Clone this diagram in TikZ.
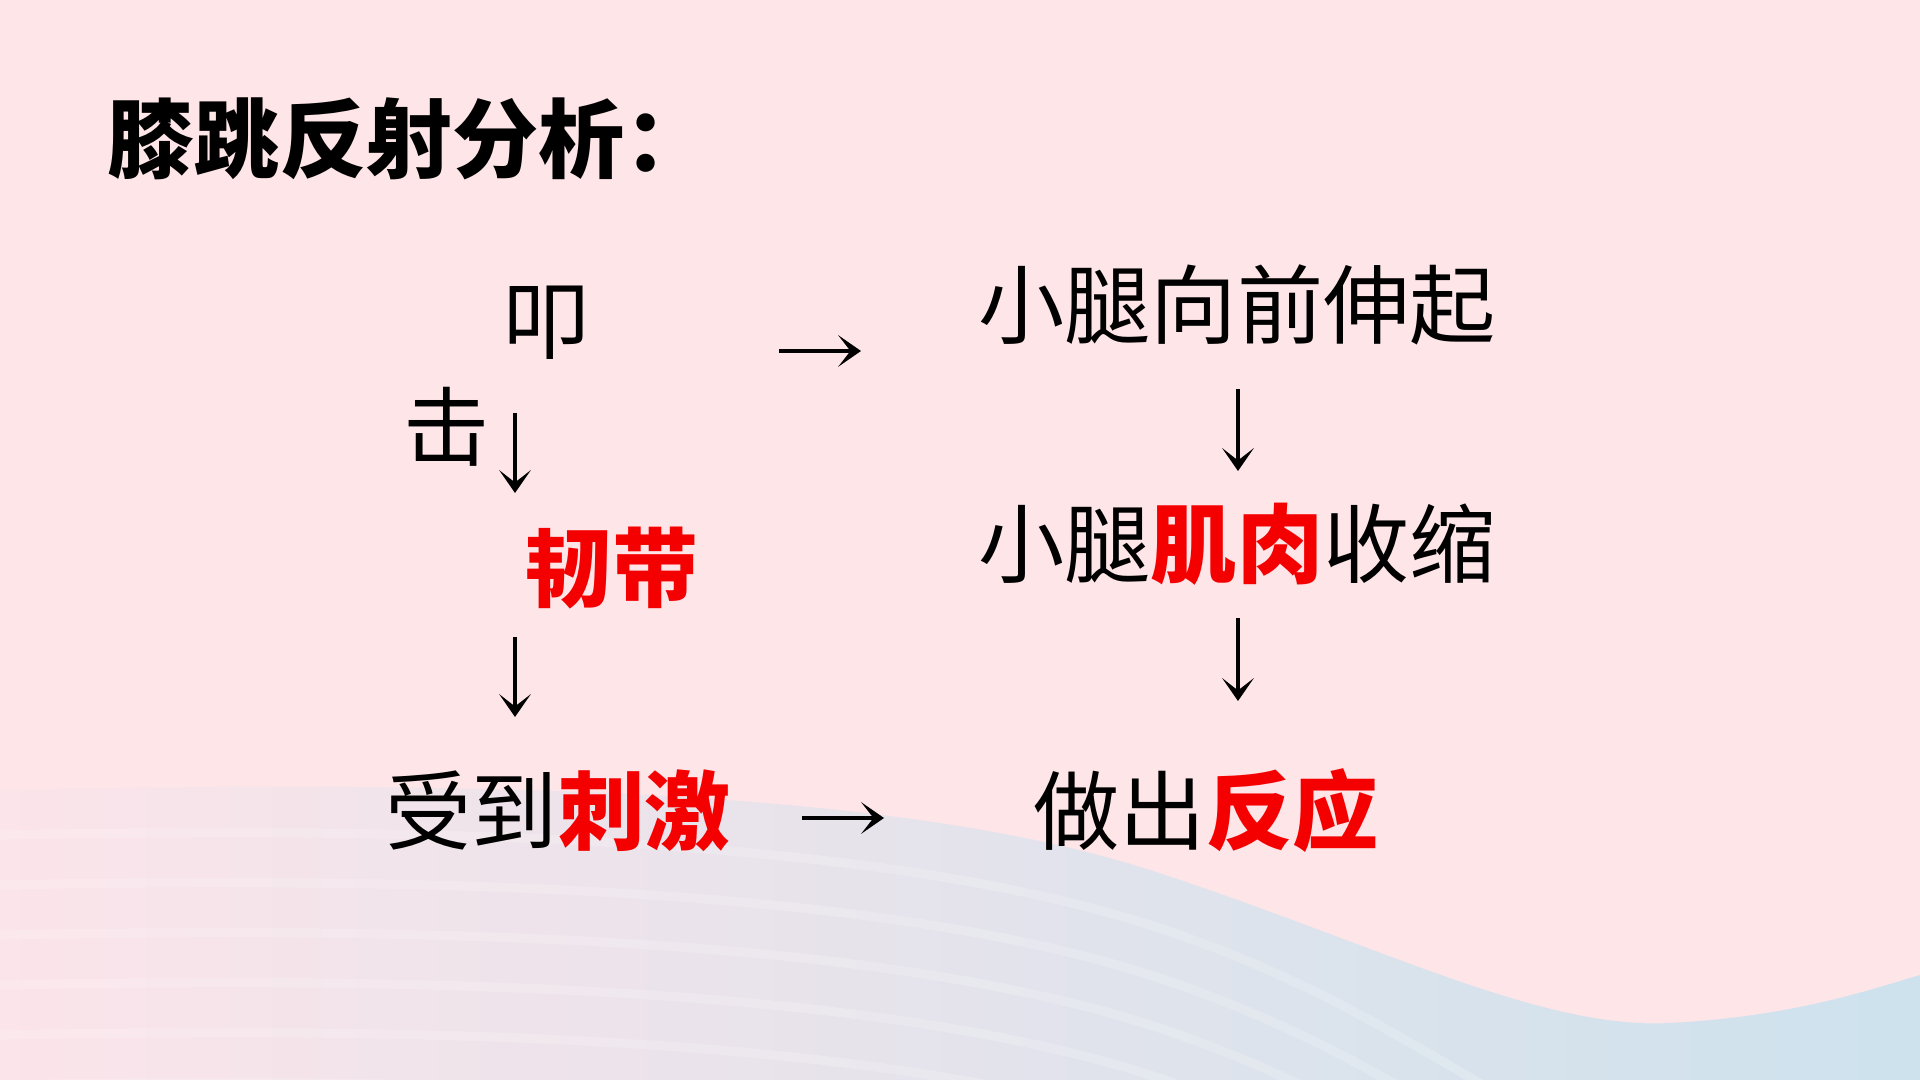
\documentclass[tikz,border=0pt]{standalone}
\usepackage{fontspec}
\setmainfont{Noto Sans CJK SC}
\usetikzlibrary{arrows.meta}

\definecolor{bgpink}{RGB}{253,229,232}
\definecolor{wavel}{RGB}{251,228,234}
\definecolor{wavem}{RGB}{230,226,236}
\definecolor{waver}{RGB}{205,226,237}
\definecolor{hlred}{RGB}{245,0,0}
\newcommand{\redword}[1]{{\bfseries\color{hlred}#1}}

\begin{document}
\begin{tikzpicture}[x=0.01cm,y=-0.01cm,
	txt/.style={inner sep=0pt,anchor=base,font=\fontsize{24.5pt}{26pt}\selectfont},
	arr/.style={line width=1pt,-{Stealth[length=6.5pt,width=9pt,inset=3.5pt]}}]
	% background and wave
	\fill[bgpink] (0,0) rectangle (1920,1080);
	\begin{scope}
		\clip (0,790) .. controls (500,780) and (900,790) .. (1150,870) .. controls (1380,945) and (1540,1030) .. (1670,1023) .. controls (1790,1017) and (1870,990) .. (1920,975) -- (1920,1080) -- (0,1080) -- cycle;
		\shade[left color=wavel, middle color=wavem, right color=waver] (0,760) rectangle (1920,1080);
		\foreach \d in {45,95,145,195,245,295}
			\draw[white,opacity=.18,line width=2.6pt] (0,790+\d) .. controls (500,780+\d) and (900,800+\d) .. (1150,880+\d) .. controls (1350,945+\d) and (1450,1030+\d) .. (1560,1080+\d);
	\end{scope}
	
	\node[txt,anchor=base west] (titel) at (107,172) {\bfseries 膝跳反射分析：};
	
	% left column
	\node[txt] (kou) at (547,353) {叩};
	\node[txt] (ji) at (447,460) {击};
	\node[txt] (rendai) at (612,601) {\redword{韧带}};
	\node[txt] (ciji) at (558,844) {受到\redword{刺激}};
	
	% right column
	\node[txt] (shenqi) at (1237,338) {小腿向前伸起};
	\node[txt] (shousuo) at (1237,577) {小腿\redword{肌肉}收缩};
	\node[txt] (fanying) at (1206,844) {做出\redword{反应}};
	
	\coordinate (o1) at (779,351);
	\coordinate (o2) at (861,351);
	\coordinate (u1) at (802,818);
	\coordinate (u2) at (884,818);
	\draw[arr] (o1) -- (o2);
	\draw[arr] (u1) -- (u2);
	
	\coordinate (l1) at (515,413);
	\coordinate (l2) at (515,493);
	\coordinate (l3) at (515,637);
	\coordinate (l4) at (515,717);
	\draw[arr] (l1) -- (l2);
	\draw[arr] (l3) -- (l4);
	
	\coordinate (r1) at (1238,389);
	\coordinate (r2) at (1238,471);
	\coordinate (r3) at (1238,618);
	\coordinate (r4) at (1238,701);
	\draw[arr] (r1) -- (r2);
	\draw[arr] (r3) -- (r4);
\end{tikzpicture}
\end{document}
